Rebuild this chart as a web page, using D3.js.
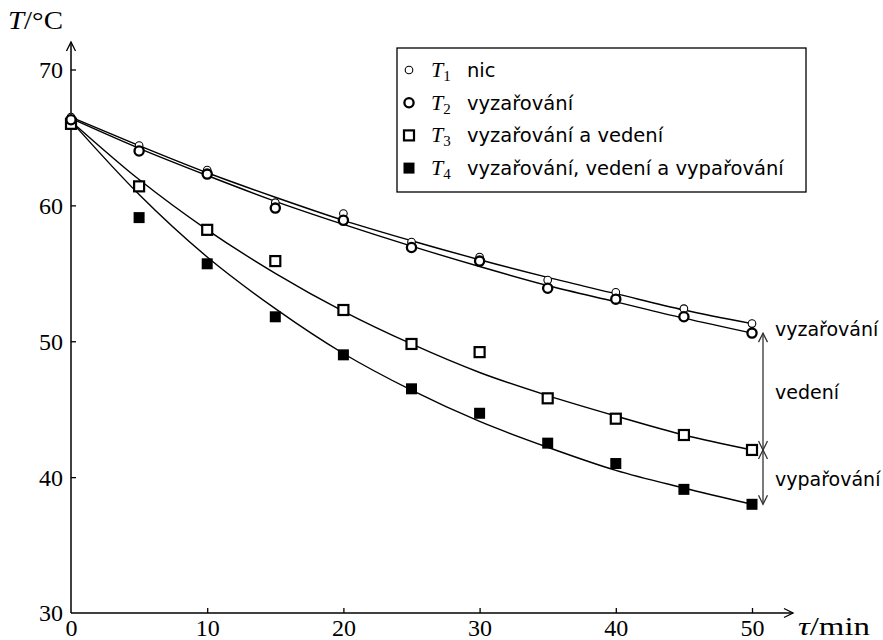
<!DOCTYPE html>
<html><head><meta charset="utf-8">
<script src="https://cdn.jsdelivr.net/npm/d3@7"></script>
<style>body{margin:0;background:#fff}</style>
</head><body>
<svg id="c" width="883" height="640"></svg>
<script>
// ---- data ----
const times = [0,5,10,15,20,25,30,35,40,45,50];
const t1 = [66.5,64.4,62.6,60.2,59.4,57.3,56.2,54.5,53.6,52.4,51.3];
const t2 = [66.3,64.0,62.3,59.8,58.9,56.9,55.9,53.9,53.1,51.8,50.6];
const t3 = [66.0,61.4,58.2,55.9,52.3,49.8,49.2,45.8,44.3,43.1,42.0];
const t4 = [66.0,59.1,55.7,51.8,49.0,46.5,44.7,42.5,41.0,39.1,38.0];
// fitted curves, values
const fit1 = [66.5,64.4,62.4,60.6,58.9,57.4,56.0,54.7,53.5,52.3,51.3];
const fit2 = [66.4,64.2,62.2,60.3,58.6,57.0,55.5,54.1,52.9,51.7,50.6];
const fit3 = [66.2,61.9,58.2,55.0,52.2,49.8,47.7,46.0,44.5,43.1,42.0];
const fit4 = [66.2,60.8,56.2,52.4,49.1,46.4,44.1,42.2,40.5,39.2,38.0];
const xTicks = [0,10,20,30,40,50];
const yTicks = [30,40,50,60,70];
const subs = ["1","2","3","4"];
const names = ["nic","vyzařování","vyzařování a vedení","vyzařování, vedení a vypařování"];
const sideLabels = ["vyzařování","vedení","vypařování"];

const svg = d3.select("#c");
const x = d3.scaleLinear().domain([0,50]).range([71,752]);
const y = d3.scaleLinear().domain([30,70]).range([613,69.5]);
const serif = "'Liberation Serif','DejaVu Serif',serif";
const sans = "'DejaVu Sans','Noto Sans',sans-serif";

// axes
const ax = svg.append("g").attr("transform",`translate(0,${y(30)})`)
  .call(d3.axisBottom(x).tickValues(xTicks).tickSizeInner(-5).tickSizeOuter(0).tickPadding(6));
const ay = svg.append("g").attr("transform",`translate(${x(0)},0)`)
  .call(d3.axisLeft(y).tickValues(yTicks).tickSizeInner(-5).tickSizeOuter(0).tickPadding(8));
[ax,ay].forEach(g=>{
  g.select(".domain").remove();
  g.selectAll("line").attr("stroke","#000").attr("stroke-width",1.3);
  g.selectAll("text").attr("font-family",serif).attr("font-size",24).attr("fill","#000");
});
ay.selectAll(".tick").filter(d=>d===30).select("line").remove();
ax.selectAll(".tick").filter(d=>d===0).select("line").remove();
ay.selectAll("text").attr("dy","0.33em");
ax.selectAll("text").attr("dy","0.72em");

function arrowHead(g, x0, y0, dx, dy, len=9, w=4.5){
  const n = Math.hypot(dx,dy); const ux=dx/n, uy=dy/n; const px=-uy, py=ux;
  g.append("path").attr("d",
    `M${x0-ux*len+px*w},${y0-uy*len+py*w}L${x0},${y0}L${x0-ux*len-px*w},${y0-uy*len-py*w}`)
    .attr("fill","none").attr("stroke",g.attr("data-c")||"#000").attr("stroke-width",1.3);
}
const axg = svg.append("g").attr("data-c","#000");
axg.append("line").attr("x1",x(0)).attr("y1",y(30)).attr("x2",x(0)).attr("y2",42).attr("stroke","#000").attr("stroke-width",1.5);
axg.append("line").attr("x1",x(0)).attr("y1",y(30)).attr("x2",793).attr("y2",y(30)).attr("stroke","#000").attr("stroke-width",1.5);
arrowHead(axg, x(0), 42, 0, -1);
arrowHead(axg, 793, y(30), 1, 0);

// axis titles
const yt = svg.append("text").attr("x",8).attr("y",29).attr("font-family",serif).attr("font-size",25)
  .attr("textLength",55).attr("lengthAdjust","spacingAndGlyphs");
yt.append("tspan").attr("font-style","italic").text("T");
yt.append("tspan").text("/°C");
const xt = svg.append("text").attr("x",798).attr("y",635).attr("font-family",serif).attr("font-size",25)
  .attr("textLength",72).attr("lengthAdjust","spacingAndGlyphs");
xt.append("tspan").attr("font-style","italic").text("τ");
xt.append("tspan").text("/min");

// fitted curves
const line = d3.line().x((d,i)=>x(times[i])).y(d=>y(d)).curve(d3.curveMonotoneX);
[fit1,fit2,fit3,fit4].forEach(f=>{
  svg.append("path").attr("d",line(f)).attr("fill","none").attr("stroke","#000").attr("stroke-width",1.4);
});

// markers
function marker(g, k, cx, cy){
  if(k===0) g.append("circle").attr("cx",cx).attr("cy",cy).attr("r",3.8).attr("fill","#fff").attr("stroke","#000").attr("stroke-width",1.1);
  else if(k===1) g.append("circle").attr("cx",cx).attr("cy",cy).attr("r",4.6).attr("fill","#fff").attr("stroke","#000").attr("stroke-width",2.3);
  else if(k===2) g.append("rect").attr("x",cx-5).attr("y",cy-5).attr("width",10).attr("height",10).attr("fill","#fff").attr("stroke","#000").attr("stroke-width",2.2);
  else g.append("rect").attr("x",cx-5.5).attr("y",cy-5.5).attr("width",11).attr("height",11).attr("fill","#000");
}
const pts = svg.append("g");
[t4,t3,t1,t2].forEach(s=>{
  const k = [t1,t2,t3,t4].indexOf(s);
  s.forEach((v,i)=>marker(pts,k,x(times[i]),y(v)));
});

// legend
const lg = svg.append("g");
lg.append("rect").attr("x",397).attr("y",48).attr("width",409).attr("height",144)
  .attr("fill","#fff").attr("stroke","#000").attr("stroke-width",1.3);
names.forEach((nm,i)=>{
  const cy = 70 + i*32.7;
  marker(lg, i, 409, cy);
  const t = lg.append("text").attr("x",431).attr("y",cy+7).attr("font-family",serif).attr("font-size",22);
  t.append("tspan").attr("font-style","italic").text("T");
  t.append("tspan").attr("font-size",15).attr("dy",4).text(subs[i]);
  lg.append("text").attr("x",467).attr("y",cy+7).attr("font-family",sans).attr("font-size",19.5).text(nm);
});

// right side annotations
const ann = svg.append("g").attr("data-c","#333");
const ax0 = 763;
const levels = [t2[10], t3[10], t4[10]];
for(let j=0;j<2;j++){
  const ya = y(levels[j]), yb = y(levels[j+1]);
  ann.append("line").attr("x1",ax0).attr("x2",ax0).attr("y1",ya).attr("y2",yb).attr("stroke","#333").attr("stroke-width",1.3);
  arrowHead(ann, ax0, ya, 0, -1);
  arrowHead(ann, ax0, yb, 0, 1);
}
const labY = [y(levels[0])-4, (y(levels[0])+y(levels[1]))/2+1, (y(levels[1])+y(levels[2]))/2+2];
sideLabels.forEach((s,i)=>{
  svg.append("text").attr("x",775).attr("y",labY[i]).attr("dy","0.35em")
    .attr("font-family",sans).attr("font-size",19).attr("fill","#000").text(s);
});
</script>
</body></html>
